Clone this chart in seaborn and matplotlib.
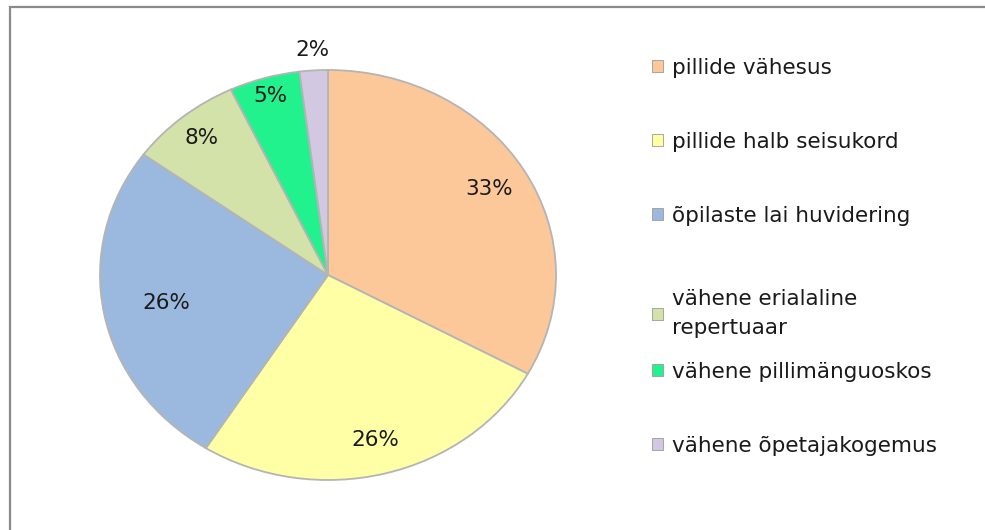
import matplotlib
matplotlib.use("Agg")
import matplotlib.pyplot as plt
import matplotlib.patches as mpatches
import seaborn as sns
import numpy as np

# andmed
categories = [
    "pillide vähesus",
    "pillide halb seisukord",
    "õpilaste lai huvidering",
    "vähene erialaline\nrepertuaar",
    "vähene pillimänguoskos",
    "vähene õpetajakogemus",
]
shares = [33, 26, 26, 8, 5, 2]
slice_colors = ["#FCC89A", "#FFFFA6", "#9BB9DF", "#D3E2A8", "#22F28E", "#D3C8E2"]

# sildi kaugus keskpunktist (paigutus)
label_radius = [0.82, 0.83, 0.72, 0.87, 0.91, 1.10]

sns.set_style("white")
plt.rcParams["font.family"] = ["DejaVu Sans"]

palette = sns.color_palette(slice_colors)

fig = plt.figure(figsize=(9.85, 5.3), dpi=100)
fig.patch.set_facecolor("white")

# pirukas - venitatud ellipsiks nagu originaalis
W, H = 985, 530
ax = fig.add_axes([100 / W, (H - 480) / H, 456 / W, 410 / H])
wedges, _ = ax.pie(
    shares,
    colors=palette,
    startangle=90,
    counterclock=False,
    radius=1.0,
    wedgeprops=dict(edgecolor="#b4b4b4", linewidth=1.3),
)
ax.set_aspect("auto")
ax.set_xlim(-1, 1)
ax.set_ylim(-1, 1)

for w, v, r in zip(wedges, shares, label_radius):
    mid = np.deg2rad((w.theta1 + w.theta2) / 2)
    ax.text(r * np.cos(mid), r * np.sin(mid), f"{v}%",
            ha="center", va="center", fontsize=15.5, color="#1a1a1a")

# legend - Exceli ebaühtlase vahega, seega kolmes osas
handles = [mpatches.Patch(facecolor=c, edgecolor="#9a9a9a", linewidth=0.6) for c in palette]


def add_legend(idx, top_px):
    leg = fig.legend(
        [handles[i] for i in idx], [categories[i] for i in idx],
        loc="upper left",
        bbox_to_anchor=(652 / W, 1 - top_px / H),
        frameon=False,
        fontsize=15.5,
        handlelength=0.5,
        handleheight=0.5,
        handletextpad=0.45,
        labelspacing=2.5,
        borderpad=0,
        borderaxespad=0,
        labelcolor="#1a1a1a",
    )
    for t in leg.get_texts():
        t.set_linespacing(1.55)
    return leg


add_legend([0, 1, 2], 58)
add_legend([3], 289)
add_legend([4, 5], 362)

# hall raam
frame = mpatches.Rectangle((9.5 / W, -0.05), 1.1, 1 - 7 / H + 0.05,
                           transform=fig.transFigure, fill=False,
                           edgecolor="#8a8a8a", linewidth=1.6)
fig.patches.append(frame)

fig.savefig("out.png", dpi=100)
